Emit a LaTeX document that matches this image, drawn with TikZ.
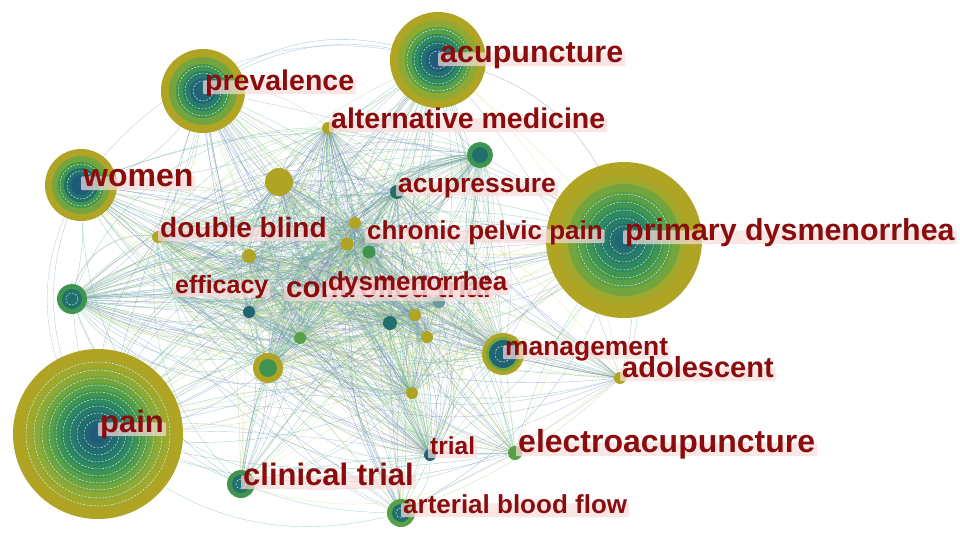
\documentclass[tikz,border=0pt]{standalone}
\usepackage{fontspec}
\setmainfont{Liberation Sans}
\definecolor{g0}{HTML}{B0A424}
\definecolor{g1}{HTML}{A2A82C}
\definecolor{g2}{HTML}{8EAA35}
\definecolor{g3}{HTML}{73A53E}
\definecolor{g4}{HTML}{57A047}
\definecolor{g5}{HTML}{3F9550}
\definecolor{g6}{HTML}{2E895E}
\definecolor{g7}{HTML}{267C68}
\definecolor{g8}{HTML}{22706E}
\definecolor{g9}{HTML}{206574}
\definecolor{g10}{HTML}{1F5A7A}
\definecolor{gt}{HTML}{6A9A98}
\definecolor{ec1}{HTML}{6F7CB8}
\definecolor{ec2}{HTML}{5A9CAE}
\definecolor{ec3}{HTML}{62B890}
\definecolor{ec4}{HTML}{9ED482}
\definecolor{ec5}{HTML}{D6E07E}
\definecolor{ec6}{HTML}{8E9CC4}
\definecolor{kwbg}{HTML}{FADCDC}
\definecolor{kwtext}{HTML}{8B0C0C}
\newcommand\ringset[2]{\foreach \r/\c in {#2} {\fill[\c] (#1) circle[radius=\r];}}
\newcommand\whiteset[2]{\foreach \r in {#2} {\draw[wring] (#1) circle[radius=\r];}}
\newcommand\kwlab[6][]{\node[kw, font=\fontsize{#5}{#5}\selectfont\bfseries, #1] (#2) at (#3,#4) {#6};}
\begin{document}
\begin{tikzpicture}[x=1pt,y=-1pt,
  edge/.style={line width=0.35pt, opacity=0.55},
  wring/.style={white, line width=0.5pt, dash pattern=on 2pt off 1.5pt, opacity=0.8},
  kw/.style={fill=kwbg, fill opacity=0.7, text opacity=1, text=kwtext, inner xsep=2pt, inner ysep=2pt, text height=0.76em, text depth=0.22em, anchor=base west, rounded corners=1pt}]
\useasboundingbox (0,0) rectangle (960,550);
\fill[white] (0,0) rectangle (960,550);
% node centres
\coordinate (pain) at (98,434);
\coordinate (pd) at (624,240);
\coordinate (acu) at (438,60);
\coordinate (prev) at (203,91);
\coordinate (women) at (81,185);
\coordinate (mgmt) at (503,354);
\coordinate (ct) at (241,484);
\coordinate (abf) at (401,513);
\coordinate (na) at (72,299);
\coordinate (nb) at (480,155);
\coordinate (nc) at (279,182);
\coordinate (nd) at (268,368);
\coordinate (eac) at (515,453);
\coordinate (adol) at (620,378);
\coordinate (trial) at (430,455);
\coordinate (altm) at (328,128);
\coordinate (acp) at (397,192);
\coordinate (db) at (158,237);
\coordinate (cpp) at (365,239);
\coordinate (eff) at (173,293);
\coordinate (ctr) at (285,297);
\coordinate (dys) at (326,290);
\coordinate (da) at (355,223);
\coordinate (dbb) at (347,244);
\coordinate (dc) at (369,252);
\coordinate (dd) at (249,256);
\coordinate (de) at (249,312);
\coordinate (df) at (439,302);
\coordinate (dg) at (415,315);
\coordinate (dh) at (390,323);
\coordinate (di) at (427,337);
\coordinate (dj) at (300,338);
\coordinate (dk) at (412,393);
\def\allnodes{pain,pd,acu,prev,women,mgmt,ct,abf,na,nb,nc,nd,eac,adol,trial,altm,acp,db,cpp,eff,ctr,dys,da,dbb,dc,dd,de,df,dg,dh,di,dj,dk}
\def\midnodes{db,altm,acp,cpp,eff,ctr,dys,da,dbb,dc,dd,de,df,dg,dh,di,dj,dk,nc,nd,trial,mgmt,nb,na}
\pgfmathsetseed{12}
% connectors
\foreach \a [count=\i] in \allnodes {
  \foreach \b [count=\j] in \allnodes {
    \ifnum\j>\i
      \pgfmathsetmacro\bnd{rand*30}
      \pgfmathrandominteger{\ci}{1}{6}
      \draw[edge, draw=ec\ci] (\a) to[bend left=\bnd] (\b);
    \fi
  }
}
\foreach \k in {1,2} {
\foreach \a [count=\i] in \midnodes {
  \foreach \b [count=\j] in \midnodes {
    \ifnum\j>\i
      \pgfmathsetmacro\bnd{rand*50}
      \pgfmathrandominteger{\ci}{1}{6}
      \draw[edge, draw=ec\ci] (\a) to[bend left=\bnd] (\b);
    \fi
  }
}
}
\foreach \a in {pain,pd,acu,prev,women} {
  \foreach \b in {db,eff,ctr,dys,dd,de,dj,dh,dk,eac,adol,trial} {
      \pgfmathsetmacro\bnd{rand*25}
      \pgfmathrandominteger{\ci}{1}{6}
      \draw[edge, draw=ec\ci] (\a) to[bend left=\bnd] (\b);
  }
}
\draw[edge, draw=ec6] (women) to[bend left=35] (acu);
\draw[edge, draw=ec2] (prev) to[bend left=30] (acu);
\draw[edge, draw=ec6] (women) to[bend right=35] (pain);
\draw[edge, draw=ec3] (pain) to[bend right=30] (abf);
\draw[edge, draw=ec1] (acu) to[bend left=35] (pd);
\draw[edge, draw=ec5] (ct) to[bend right=25] (eac);
% rings
\ringset{pain}{85/g0,74/g1,66/g2,58/g3,51/g4,44/g5,37/g6,30/g7,23/g8,16/g9,9/g10}
\whiteset{pain}{72,64,56,49,42,35,28,21,14}
\ringset{pd}{78/g0,63/g1,56/g3,48/g4,40/g5,32/g6,24/g7,16/g8,9/g9}
\whiteset{pd}{46,38,30,22,14}
\ringset{acu}{48/g0,40/g2,33/g4,26/g6,19/g8,12/g10}
\whiteset{acu}{31,24,17,9}
\ringset{prev}{42/g0,34/g3,27/g5,20/g7,13/g9}
\whiteset{prev}{25,18,10}
\ringset{women}{36/g0,29/g3,23/g5,17/g8,10/g10}
\whiteset{women}{21,14}
\ringset{mgmt}{21/g0,17/g3,14/g9}
\whiteset{mgmt}{8}
\ringset{na}{15/g5,10/g8}
\whiteset{na}{6}
\ringset{nb}{13/g5,8/g8}
\ringset{nc}{14/g0}
\ringset{nd}{15/g0,9/g5}
\ringset{ct}{14/g5,9/g8}
\whiteset{ct}{5}
\ringset{abf}{14/g4,9/g8}
\whiteset{abf}{5}
\ringset{altm}{6/g0}
\ringset{acp}{7/g8}
\ringset{db}{6/g0}
\ringset{da}{6/g0}
\ringset{dbb}{6.5/g0}
\ringset{dc}{6.5/g5}
\ringset{dd}{7/g0}
\ringset{de}{6/g9}
\ringset{df}{6/gt}
\ringset{dg}{6/g0}
\ringset{dh}{7/g8}
\ringset{di}{6/g0}
\ringset{dj}{6/g4}
\ringset{dk}{6/g0}
\ringset{trial}{6/g9}
\ringset{eac}{7/g4}
\ringset{adol}{6/g0}
% labels
\kwlab{lacu}{438}{62}{30.5}{acupuncture}
\kwlab{lprev}{203}{90}{28.5}{prevalence}
\kwlab{laltm}{329}{128}{28.5}{alternative medicine}
\kwlab{lwomen}{81}{186}{32}{women}
\kwlab{lacp}{396}{192}{26.5}{acupressure}
\kwlab{ldb}{158}{237}{28}{double blind}
\kwlab{lcpp}{365}{239}{26}{chronic pelvic pain}
\kwlab{lpd}{623}{240}{30.4}{primary dysmenorrhea}
\kwlab{leff}{173}{293}{25}{efficacy}
\kwlab{lctr}{284}{297}{29.5}{controlled trial}
\kwlab[fill opacity=0.85, text depth=0.3em]{ldys}{326}{290}{26}{dysmenorrhea}
\kwlab{lmgmt}{503}{355}{26.4}{management}
\kwlab{ladol}{620}{377}{29}{adolescent}
\kwlab{lpain}{98}{432}{31}{pain}
\kwlab{ltrial}{428}{454}{24.5}{trial}
\kwlab{leac}{516}{452}{32}{electroacupuncture}
\kwlab{lct}{241}{485}{31}{clinical trial}
\kwlab{labf}{401}{513}{26}{arterial blood flow}
\end{tikzpicture}
\end{document}
